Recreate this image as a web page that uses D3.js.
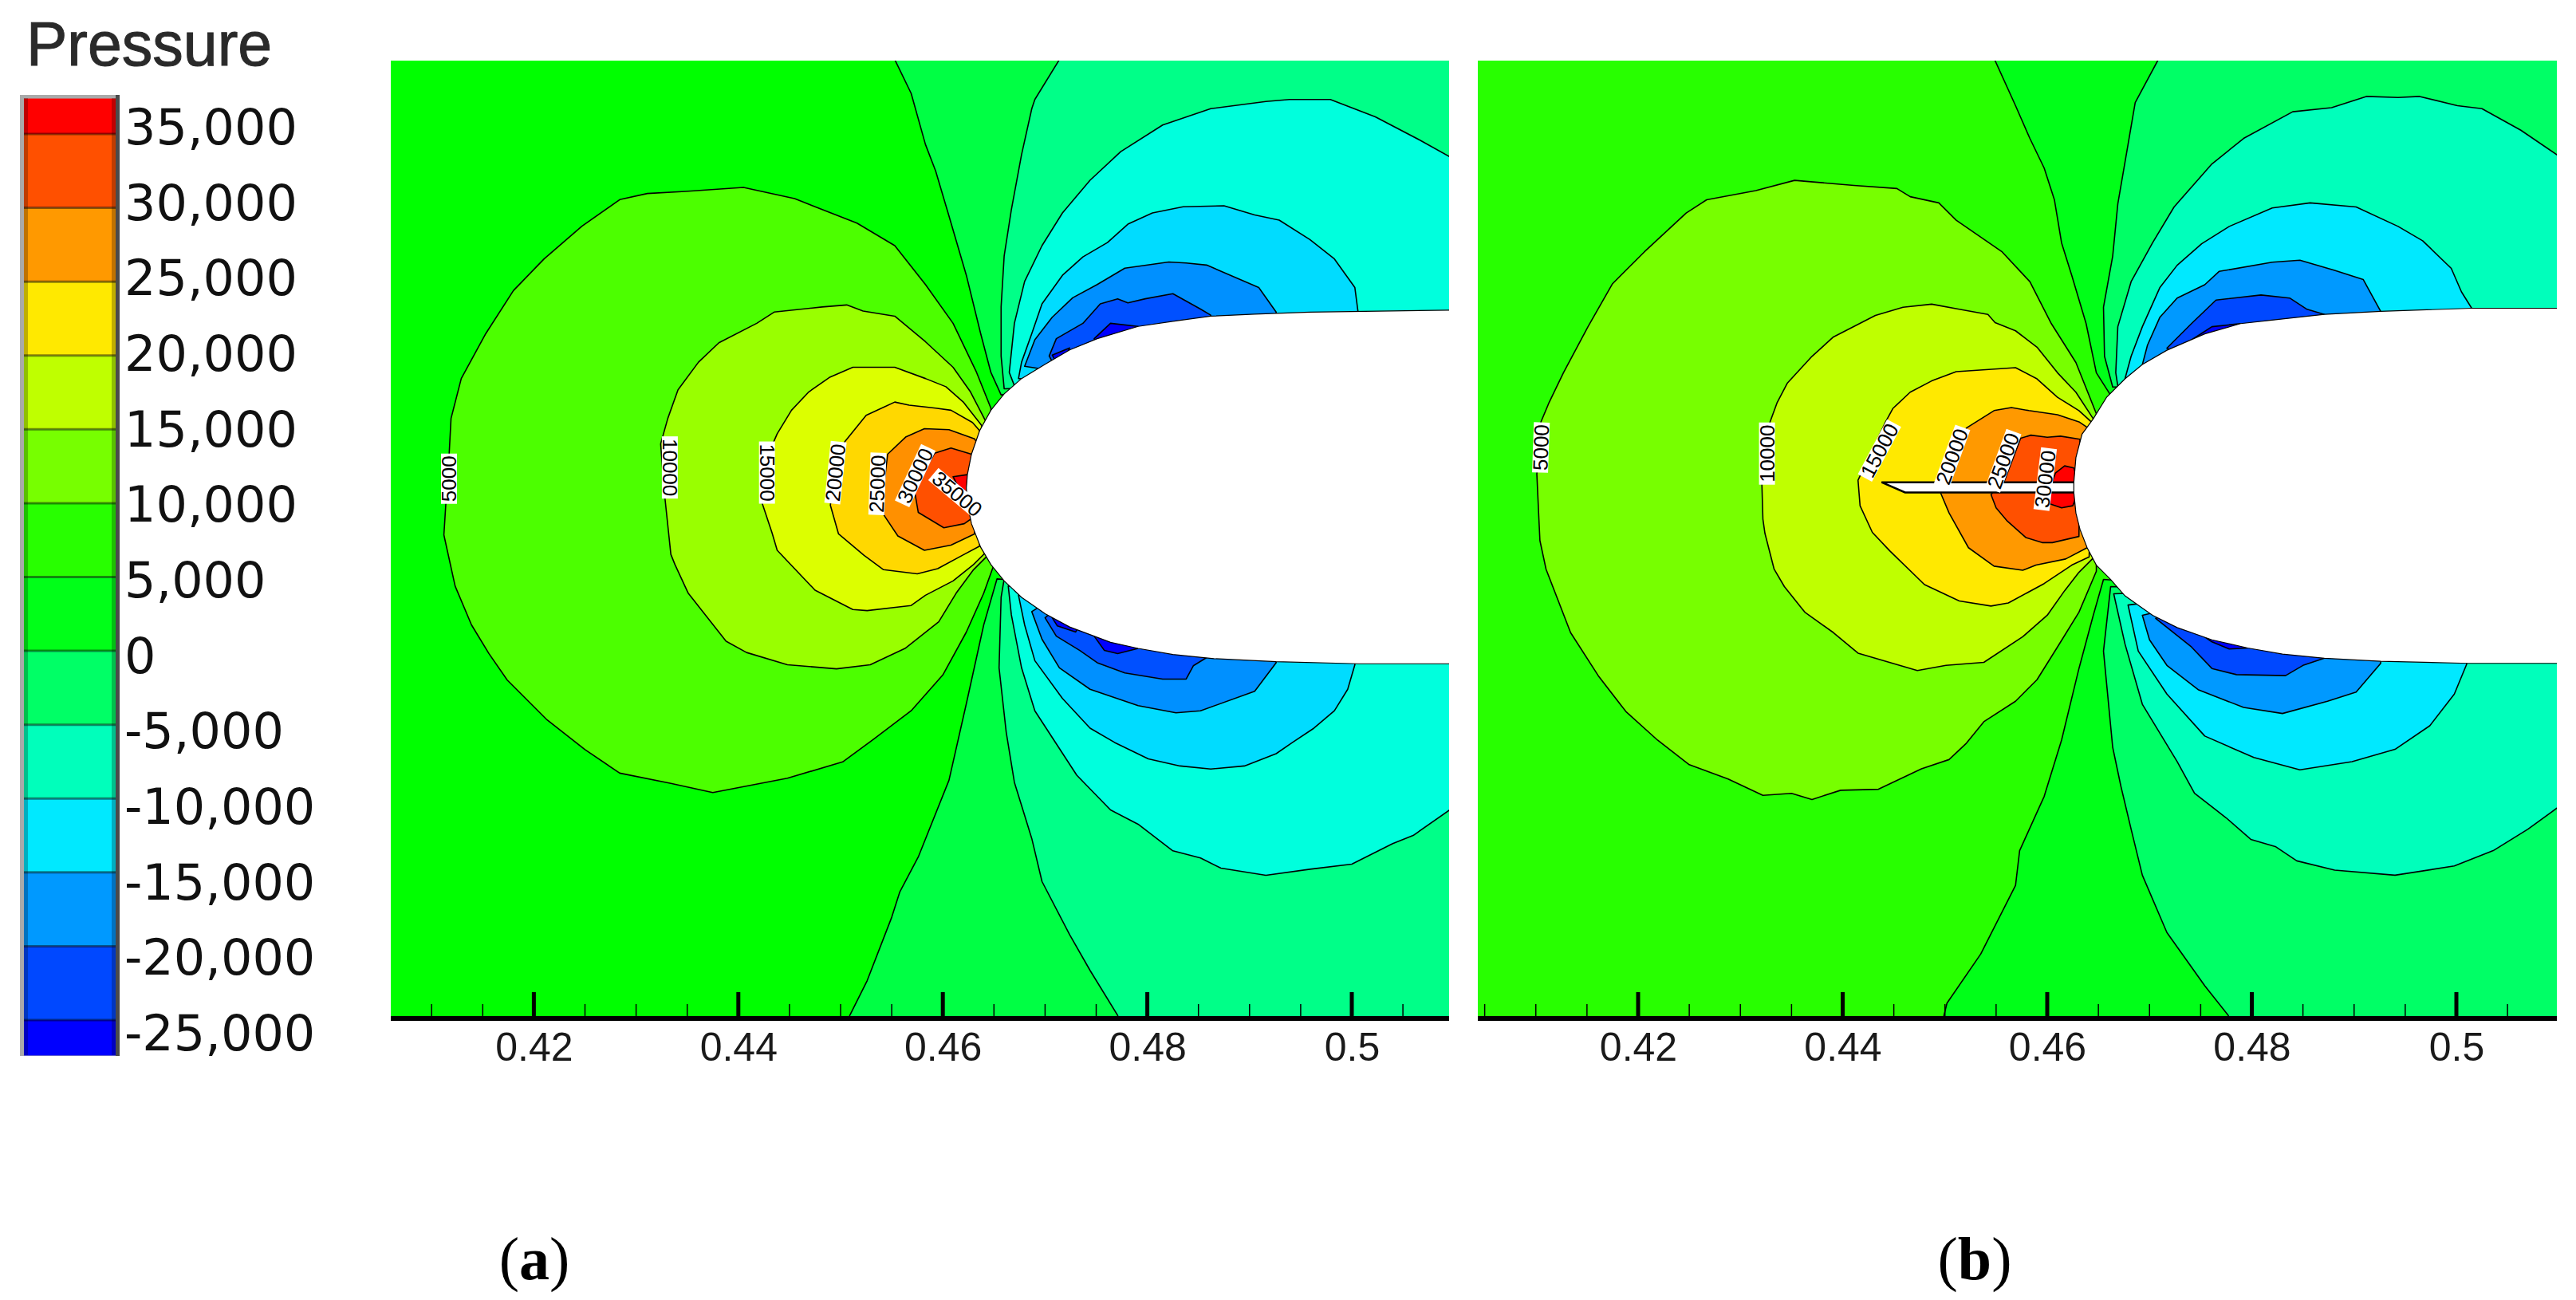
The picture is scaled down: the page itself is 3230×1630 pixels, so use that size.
<!DOCTYPE html>
<html><head><meta charset="utf-8"><script src="https://cdnjs.cloudflare.com/ajax/libs/d3/7.8.5/d3.min.js"></script>
<style>html,body{margin:0;background:#fff}svg{display:block}</style></head><body><svg id="c" width="3230" height="1630"></svg>
<script>
// Contour levels; coordinates are [x, y] in units of 1e-4 of the axis unit, y = 0 on the body centreline.
const legendLevels=[35000,30000,25000,20000,15000,10000,5000,0,-5000,-10000,-15000,-20000,-25000];
const legendEdges=[37400,35000,30000,25000,20000,15000,10000,5000,0,-5000,-10000,-15000,-20000,-25000,-27400];
const legendColors=["#ff0000","#ff5000","#ff9900","#ffe900","#bfff00","#77ff00","#28ff00","#00ff18","#00ff66","#00ffbb","#00e9ff","#0099ff","#0048ff","#0000ff"];
const majorTicks=[0.42,0.44,0.46,0.48,0.5];
const minorTicks=[0.405,0.41,0.415,0.425,0.43,0.435,0.445,0.45,0.455,0.465,0.47,0.475,0.485,0.49,0.495,0.505];

// ---- panel (a)
const aBody=[[5100,174],[5026,173],[4959,172],[4905,170],[4862,168],[4825,163],[4791,158],[4751,146],[4724,135],[4700,121],[4677,107],[4660,92],[4647,76],[4636,56],[4628,33],[4624,13],[4623,0],[4624,-15],[4628,-35],[4637,-58],[4647,-75],[4660,-91],[4677,-107],[4700,-123],[4724,-136],[4764,-151],[4791,-157],[4825,-163],[4865,-167],[4926,-170],[5006,-172],[5100,-172]];
const aP5=[[4647,78],[4633,113],[4610,161],[4583,199],[4553,237],[4516,259],[4455,283],[4405,294],[4348,290],[4311,288],[4284,282],[4247,256],[4210,224],[4180,193],[4153,151],[4129,107],[4119,68],[4117,30],[4114,-14],[4112,-46],[4123,-96],[4139,-134],[4156,-162],[4174,-188],[4213,-227],[4250,-256],[4284,-279],[4334,-289],[4375,-298],[4448,-284],[4502,-268],[4532,-246],[4569,-218],[4600,-183],[4623,-141],[4640,-103],[4650,-75]];
const aP10=[[4642,65],[4627,94],[4610,118],[4583,143],[4553,168],[4522,173],[4506,179],[4482,177],[4435,172],[4418,161],[4381,142],[4361,123],[4341,96],[4331,68],[4324,43],[4328,-8],[4334,-65],[4338,-75],[4351,-103],[4388,-150],[4408,-161],[4448,-173],[4496,-177],[4529,-173],[4563,-157],[4596,-131],[4613,-103],[4630,-80],[4643,-67]];
const aP15=[[4638,61],[4620,84],[4603,99],[4583,107],[4553,118],[4512,118],[4489,108],[4469,94],[4452,76],[4438,53],[4428,30],[4423,-14],[4433,-44],[4438,-61],[4455,-79],[4475,-100],[4512,-119],[4526,-120],[4569,-115],[4583,-105],[4610,-91],[4630,-75],[4642,-63]];
const aP20=[[4636,56],[4629,64],[4608,76],[4593,78],[4567,81],[4553,84],[4525,71],[4504,45],[4494,17],[4490,-17],[4498,-45],[4523,-66],[4542,-80],[4575,-84],[4595,-79],[4619,-66],[4636,-57]];
const aP25=[[4633,45],[4631,48],[4606,57],[4582,58],[4564,50],[4546,33],[4542,-1],[4542,-26],[4556,-47],[4582,-61],[4608,-56],[4631,-45]];
const aP30=[[4628,33],[4608,39],[4592,34],[4572,-1],[4576,-24],[4601,-39],[4621,-35],[4628,-30]];
const aP35=[[4610,11],[4624,13],[4630,-4],[4623,-4],[4614,3]];
const aT0=[[4553,425],[4553,419],[4569,386],[4583,336],[4593,310],[4606,266],[4623,208],[4637,151],[4647,113],[4657,91],[4800,100],[5110,100],[5110,425]];
const aT5=[[4714,425],[4714,419],[4690,380],[4687,371],[4677,326],[4667,272],[4660,227],[4657,177],[4657,129],[4660,97],[4800,100],[5110,100],[5110,425]];
const aT10=[[5110,316],[5067,340],[5023,363],[4979,380],[4939,380],[4916,378],[4862,371],[4815,355],[4774,329],[4744,301],[4717,269],[4697,237],[4680,202],[4670,161],[4665,113],[4670,100],[4800,100],[5110,100]];
const aT15=[[5006,173],[5003,196],[4983,224],[4959,243],[4929,262],[4905,267],[4875,276],[4835,275],[4805,269],[4781,258],[4761,240],[4737,226],[4717,208],[4697,180],[4687,151],[4677,123],[4674,107],[4800,100],[5006,100]];
const aT20=[[4926,172],[4909,196],[4858,218],[4838,220],[4821,221],[4778,215],[4751,199],[4727,186],[4707,167],[4690,145],[4680,119],[4800,100],[4926,100]];
const aT25=[[4862,169],[4852,175],[4825,190],[4798,185],[4781,181],[4771,185],[4754,180],[4737,161],[4711,146],[4704,129],[4720,100],[4862,100]];
const aT30=[[4791,158],[4764,161],[4748,146],[4760,120],[4800,120]];
const aT30b=[[4724,137],[4707,130],[4715,115]];
const aB0=[[4505,-530],[4509,-516],[4526,-482],[4550,-420],[4558,-395],[4576,-361],[4606,-286],[4623,-211],[4640,-134],[4653,-89],[4800,-100],[5110,-100],[5110,-530]];
const aB5=[[4775,-530],[4771,-516],[4744,-472],[4724,-437],[4697,-385],[4687,-343],[4670,-288],[4662,-239],[4655,-176],[4657,-107],[4660,-89],[4800,-100],[5110,-100],[5110,-530]];
const aB10=[[5110,-305],[5060,-340],[5040,-348],[5000,-368],[4959,-373],[4916,-379],[4872,-372],[4852,-362],[4825,-355],[4791,-329],[4764,-315],[4731,-281],[4690,-218],[4677,-176],[4667,-124],[4664,-96],[4800,-100],[5110,-100]];
const aB15=[[5003,-173],[4996,-197],[4983,-218],[4963,-235],[4942,-249],[4926,-260],[4895,-272],[4862,-275],[4832,-272],[4801,-265],[4768,-249],[4744,-235],[4717,-206],[4690,-169],[4680,-134],[4674,-105],[4800,-100],[5003,-100]];
const aB20=[[4926,-171],[4905,-199],[4852,-218],[4828,-220],[4791,-213],[4744,-197],[4714,-176],[4697,-148],[4687,-121],[4720,-100],[4926,-100]];
const aB25=[[4858,-166],[4845,-174],[4838,-187],[4815,-187],[4778,-181],[4751,-171],[4734,-159],[4711,-145],[4700,-127],[4720,-110],[4858,-110]];
const aB30=[[4791,-157],[4771,-162],[4758,-159],[4748,-145],[4770,-130]];
const aB30b=[[4707,-127],[4712,-135],[4730,-141],[4735,-130]];
const aColors={bg:"#00ff00",p5:"#4cff00",p10:"#99ff00",p15:"#dcff00",p20:"#ffd800",p25:"#ff9000",p30:"#ff5000",p35:"#ff0000",n0:"#00ff44",n5:"#00ff88",n10:"#00ffdd",n15:"#00dcff",n20:"#0090ff",n25:"#0050ff",n30:"#0000ff"};
const aLabels=[[5000,4117,9,-90],[10000,4333,20,90],[15000,4428,15,90],[20000,4495,15,-84],[25000,4536,4,-88],[30000,4573,12,-65],[35000,4614,-6,40]];

// ---- panel (b)
const bBody=[[5100,175],[5015,175],[4926,172],[4871,169],[4816,163],[4789,160],[4754,150],[4717,134],[4693,120],[4676,106],[4658,88],[4645,67],[4634,52],[4628,29],[4626,5],[4626,-5],[4628,-25],[4632,-41],[4639,-59],[4648,-76],[4662,-90],[4676,-106],[4693,-118],[4703,-125],[4727,-137],[4761,-149],[4796,-157],[4830,-163],[4871,-167],[4926,-170],[5012,-172],[5100,-172]];
const bSlit=[[4438,5],[4640,5],[4640,-5],[4461,-5]];
const bP5=[[4648,72],[4628,122],[4604,160],[4583,201],[4556,230],[4511,261],[4494,278],[4466,284],[4453,292],[4411,295],[4353,300],[4315,290],[4267,281],[4247,268],[4206,230],[4175,199],[4151,157],[4127,112],[4113,83],[4105,64],[4101,13],[4103,-31],[4104,-52],[4110,-80],[4134,-142],[4161,-184],[4188,-219],[4219,-247],[4250,-271],[4288,-285],[4322,-301],[4350,-299],[4370,-305],[4398,-296],[4435,-295],[4477,-275],[4504,-266],[4521,-250],[4538,-229],[4569,-209],[4590,-188],[4610,-156],[4631,-122],[4648,-82]];
const bP10=[[4645,67],[4628,93],[4610,112],[4590,137],[4569,153],[4549,161],[4542,169],[4514,174],[4487,179],[4459,176],[4432,168],[4391,147],[4370,128],[4346,102],[4336,83],[4329,64],[4321,4],[4322,-31],[4324,-45],[4333,-80],[4343,-97],[4363,-122],[4391,-142],[4415,-162],[4473,-179],[4501,-174],[4538,-171],[4576,-146],[4600,-125],[4617,-101],[4631,-83],[4645,-69]];
const bP15=[[4643,64],[4631,75],[4610,88],[4590,106],[4569,117],[4511,113],[4487,104],[4466,93],[4449,77],[4442,64],[4415,7],[4417,-18],[4429,-44],[4446,-62],[4480,-95],[4514,-111],[4545,-116],[4562,-113],[4597,-94],[4624,-76],[4641,-68]];
const bP20=[[4640,58],[4631,64],[4610,71],[4582,75],[4565,78],[4548,75],[4521,58],[4492,6],[4496,-6],[4504,-25],[4523,-59],[4548,-77],[4576,-81],[4589,-76],[4618,-70],[4639,-59]];
const bP25=[[4632,47],[4613,50],[4600,49],[4584,51],[4574,48],[4558,6],[4545,-7],[4550,-20],[4561,-33],[4579,-49],[4595,-54],[4605,-54],[4631,-48]];
const bP30=[[4626,19],[4617,21],[4608,14],[4605,6],[4602,-5],[4602,-16],[4614,-20],[4625,-18],[4630,-5],[4630,6]];
const bT0=[[4549,425],[4549,417],[4569,373],[4583,341],[4597,312],[4607,281],[4614,239],[4624,207],[4638,160],[4648,112],[4662,90],[4800,100],[5110,100],[5110,425]];
const bT5=[[4708,425],[4708,417],[4686,376],[4679,335],[4669,277],[4664,226],[4655,176],[4656,128],[4664,98],[4800,100],[5110,100],[5110,425]];
const bT10=[[5110,317],[5063,349],[5025,370],[5001,373],[4964,382],[4943,381],[4912,382],[4878,371],[4840,367],[4792,341],[4761,316],[4724,274],[4703,239],[4682,201],[4669,157],[4667,112],[4669,99],[4800,100],[5110,100]];
const bT15=[[5015,175],[5005,191],[4995,214],[4967,241],[4943,255],[4902,274],[4857,278],[4820,273],[4778,255],[4751,238],[4727,217],[4710,195],[4693,157],[4682,128],[4676,106],[4800,100],[5015,100]];
const bT20=[[4926,172],[4909,203],[4881,212],[4847,222],[4820,220],[4768,211],[4754,198],[4727,185],[4710,166],[4698,139],[4693,120],[4800,100],[4926,100]];
const bT25=[[4871,169],[4854,174],[4837,185],[4809,188],[4765,183],[4741,160],[4717,136],[4760,110],[4871,110]];
const bT30=[[4789,160],[4761,157],[4741,144],[4770,120],[4800,120]];
const bB0=[[4495,-530],[4499,-516],[4502,-504],[4535,-456],[4569,-389],[4573,-355],[4597,-302],[4614,-247],[4631,-177],[4645,-125],[4655,-90],[4800,-100],[5110,-100],[5110,-530]];
const bB5=[[4781,-530],[4777,-516],[4754,-487],[4717,-435],[4693,-379],[4682,-334],[4672,-292],[4664,-254],[4655,-160],[4662,-97],[4800,-100],[5110,-100],[5110,-530]];
const bB10=[[5110,-305],[5070,-334],[5036,-355],[4998,-370],[4940,-379],[4881,-374],[4844,-365],[4823,-351],[4799,-344],[4775,-323],[4744,-299],[4727,-268],[4693,-212],[4676,-153],[4665,-104],[4800,-100],[5110,-100]];
const bB15=[[5010,-173],[4998,-202],[4974,-233],[4940,-256],[4898,-268],[4847,-276],[4802,-264],[4754,-243],[4717,-202],[4689,-160],[4679,-115],[4800,-100],[5010,-100]];
const bB20=[[4926,-172],[4902,-200],[4874,-209],[4830,-221],[4792,-215],[4748,-198],[4717,-174],[4700,-149],[4693,-125],[4800,-100],[4926,-100]];
const bB25=[[4871,-167],[4850,-174],[4833,-184],[4785,-183],[4761,-177],[4741,-156],[4706,-128],[4760,-110],[4871,-110]];
const bB30=[[4796,-157],[4778,-158],[4761,-151],[4748,-142],[4770,-120],[4800,-120]];
const bColors={bg:"#28ff00",p5:"#77ff00",p10:"#bfff00",p15:"#ffe900",p20:"#ff9900",p25:"#ff5000",p30:"#ff0000",n0:"#00ff18",n5:"#00ff66",n10:"#00ffbb",n15:"#00e9ff",n20:"#0099ff",n25:"#0048ff",n30:"#0000ff"};
const bLabels=[[5000,4105,39,-88],[10000,4326,33,-90],[15000,4436,36,-62],[20000,4507,30,-70],[25000,4557,26,-70],[30000,4598,8,-83]];

const panels=[
 {name:"a",tag:"a",xr:[669.4,1695],left:490,right:1817,top:.0418,body:aBody,labels:aLabels,bg:aColors.bg,
  bands:[[aP5,aColors.p5],[aP10,aColors.p10],[aP15,aColors.p15],[aP20,aColors.p20],[aP25,aColors.p25],[aP30,aColors.p30],[aP35,aColors.p35],
   [aT0,aColors.n0],[aB0,aColors.n0],[aT5,aColors.n5],[aB5,aColors.n5],[aT10,aColors.n10],[aB10,aColors.n10],[aT15,aColors.n15],[aB15,aColors.n15],[aT20,aColors.n20],[aB20,aColors.n20],[aT25,aColors.n25],[aB25,aColors.n25],[aT30,aColors.n30],[aT30b,aColors.n30],[aB30,aColors.n30],[aB30b,aColors.n30]]},
 {name:"b",tag:"b",xr:[2054,3080],left:1853,right:3206,top:.0417,body:bBody,slit:bSlit,labels:bLabels,bg:bColors.bg,
  bands:[[bP5,bColors.p5],[bP10,bColors.p10],[bP15,bColors.p15],[bP20,bColors.p20],[bP25,bColors.p25],[bP30,bColors.p30],
   [bT0,bColors.n0],[bB0,bColors.n0],[bT5,bColors.n5],[bB5,bColors.n5],[bT10,bColors.n10],[bB10,bColors.n10],[bT15,bColors.n15],[bB15,bColors.n15],[bT20,bColors.n20],[bB20,bColors.n20],[bT25,bColors.n25],[bB25,bColors.n25],[bT30,bColors.n30],[bB30,bColors.n30]]}
];

const svg=d3.select("#c");
const plotTop=76,plotBottom=1277;

panels.forEach(p=>{
  const x=d3.scaleLinear().domain([0.42,0.5]).range(p.xr);
  const y=d3.scaleLinear().domain([-0.0519,p.top]).range([plotBottom,plotTop]);
  const line=d3.line().x(d=>x(d[0]*1e-4)).y(d=>y(d[1]*1e-4));
  const closed=a=>line(a)+"Z";
  svg.append("clipPath").attr("id","clip-"+p.name).append("rect")
    .attr("x",p.left).attr("y",plotTop).attr("width",p.right-p.left).attr("height",plotBottom-plotTop);
  const g=svg.append("g").attr("clip-path",`url(#clip-${p.name})`);
  g.append("rect").attr("x",p.left).attr("y",plotTop).attr("width",p.right-p.left).attr("height",plotBottom-plotTop).attr("fill",p.bg);
  g.selectAll("path.band").data(p.bands).join("path").attr("class","band")
    .attr("d",d=>closed(d[0])).attr("fill",d=>d[1]).attr("stroke","#000").attr("stroke-width",1.6).attr("stroke-linejoin","round");
  if(p.slit) g.append("path").attr("d",closed(p.slit)).attr("fill","#fff").attr("stroke","#000").attr("stroke-width",2.5);
  g.append("path").attr("d",closed(p.body)).attr("fill","#fff").attr("stroke","#000").attr("stroke-width",1.2);
  // contour labels
  const lab=g.selectAll("g.lab").data(p.labels).join("g").attr("class","lab")
    .attr("transform",d=>`translate(${x(d[1]*1e-4)},${y(d[2]*1e-4)}) rotate(${d[3]})`);
  lab.append("rect").attr("x",d=>-(String(d[0]).length*7.5+1.5)).attr("width",d=>String(d[0]).length*15+3).attr("y",-10).attr("height",20).attr("fill","#fff");
  lab.append("text").text(d=>d[0]).attr("text-anchor","middle").attr("y",9)
    .attr("font-family","Liberation Sans").attr("font-size",26).attr("fill","#000");
  // axis
  const ax=svg.append("g").attr("transform",`translate(0,${plotBottom})`)
    .call(d3.axisBottom(x).tickValues(majorTicks).tickFormat(d=>String(d)).tickSize(0).tickPadding(17));
  ax.select(".domain").remove();
  ax.selectAll("text").attr("font-family","Liberation Sans").attr("font-size",50).attr("fill","#1a1a1a");
  svg.append("g").selectAll("line").data(majorTicks).join("line")
    .attr("x1",d=>x(d)).attr("x2",d=>x(d)).attr("y1",plotBottom-33).attr("y2",plotBottom).attr("stroke","#000").attr("stroke-width",5);
  svg.append("g").selectAll("line").data(minorTicks.filter(d=>x(d)>p.left&&x(d)<p.right)).join("line")
    .attr("x1",d=>x(d)).attr("x2",d=>x(d)).attr("y1",plotBottom-18).attr("y2",plotBottom).attr("stroke","#000").attr("stroke-width",1.5);
  svg.append("line").attr("x1",p.left).attr("x2",p.right).attr("y1",plotBottom).attr("y2",plotBottom).attr("stroke","#000").attr("stroke-width",6);
  // panel tag
  const t=svg.append("text").attr("x",(p.name==="a"?670:2476)).attr("y",1604).attr("text-anchor","middle")
    .attr("font-family","Liberation Serif").attr("font-size",76).attr("fill","#000");
  t.append("tspan").text("(");t.append("tspan").attr("font-weight","bold").text(p.tag);t.append("tspan").text(")");
});

// legend
const legendY=d3.scaleLinear().domain([35000,-25000]).range([168,1279]);
const labelY=d3.scaleLinear().domain([35000,-25000]).range([158,1294]);
const lg=svg.append("g");
lg.append("rect").attr("x",25).attr("y",119).attr("width",125).attr("height",1205).attr("fill","#aaa");
lg.append("rect").attr("x",145).attr("y",119).attr("width",5).attr("height",1205).attr("fill","#4a4a4a");
lg.selectAll("rect.b").data(legendColors).join("rect").attr("class","b")
  .attr("x",30).attr("width",115).attr("y",(d,i)=>legendY(legendEdges[i])).attr("height",(d,i)=>legendY(legendEdges[i+1])-legendY(legendEdges[i])).attr("fill",d=>d);
lg.append("rect").attr("x",30).attr("y",123).attr("width",5).attr("height",1200).attr("fill","#000").attr("opacity",.25);
lg.append("rect").attr("x",140).attr("y",123).attr("width",5).attr("height",1200).attr("fill","#000").attr("opacity",.25);
lg.selectAll("line").data(legendLevels).join("line").attr("x1",30).attr("x2",145).attr("y1",d=>legendY(d)).attr("y2",d=>legendY(d)).attr("stroke","#000").attr("stroke-opacity",.45).attr("stroke-width",3);
lg.selectAll("text").data(legendLevels).join("text").attr("x",156).attr("y",d=>labelY(d)+23)
  .text(d=>d3.format(",")(d).replace("\u2212","-")).attr("font-family","DejaVu Sans").attr("font-size",62).attr("fill","#111");
svg.append("text").attr("x",33).attr("y",82).text("Pressure").attr("font-family","Liberation Sans").attr("font-size",77).attr("fill","#2a2a2a").attr("stroke","#2a2a2a").attr("stroke-width",1);
</script></body></html>
